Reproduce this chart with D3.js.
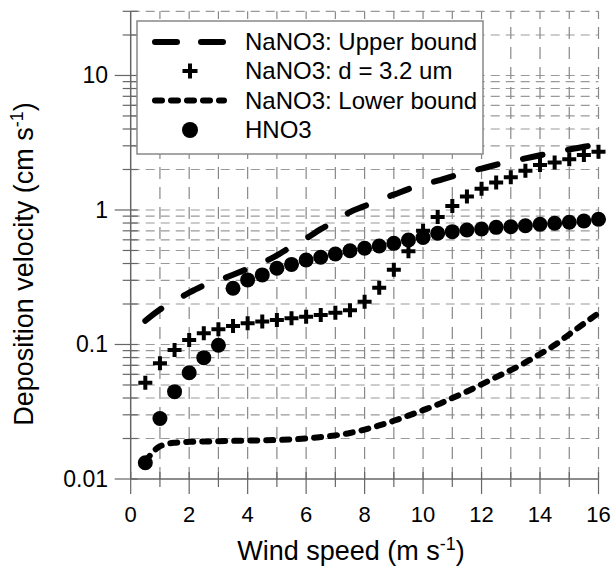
<!DOCTYPE html>
<html>
<head>
<meta charset="utf-8">
<script src="https://cdn.jsdelivr.net/npm/d3@7"></script>
<style>
  body { margin: 0; background: #fff; }
  text { font-family: "Liberation Sans", Arial, sans-serif; fill: #000; }
</style>
</head>
<body>
<div id="chart"></div>
<script>
// wind speed (m/s) at which every series was sampled
var windSpeed = [0.5, 1, 1.5, 2, 2.5, 3, 3.5, 4, 4.5, 5, 5.5, 6, 6.5, 7, 7.5, 8,
  8.5, 9, 9.5, 10, 10.5, 11, 11.5, 12, 12.5, 13, 13.5, 14, 14.5, 15, 15.5, 16];

// deposition velocities, cm/s
var upperBound = [0.150, 0.182, 0.21, 0.243, 0.275, 0.30, 0.33, 0.365, 0.405, 0.46, 0.535, 0.615,
  0.72, 0.83, 0.965, 1.07, 1.19, 1.30, 1.43, 1.55, 1.65, 1.78, 1.93, 2.03,
  2.17, 2.30, 2.42, 2.55, 2.68, 2.82, 2.95, 3.08];
var d32 = [0.052, 0.0725, 0.091, 0.108, 0.121, 0.130, 0.137, 0.144, 0.148, 0.152, 0.157, 0.161,
  0.166, 0.172, 0.180, 0.208, 0.264, 0.360, 0.494, 0.70, 0.887, 1.07, 1.26, 1.44,
  1.60, 1.75, 1.96, 2.16, 2.25, 2.38, 2.56, 2.71];
var lowerBound = [0.0135, 0.0175, 0.0186, 0.0189, 0.0190, 0.0191, 0.0192, 0.0193, 0.0194, 0.0195, 0.0197, 0.0200,
  0.0205, 0.0211, 0.0220, 0.0233, 0.0250, 0.0271, 0.0296, 0.0325, 0.0358, 0.0400, 0.0447, 0.0505,
  0.0572, 0.0645, 0.0735, 0.085, 0.099, 0.119, 0.143, 0.171];
var hno3 = [0.0132, 0.0282, 0.0446, 0.0617, 0.0798, 0.0987, 0.262, 0.302, 0.329, 0.369, 0.394, 0.425,
  0.445, 0.471, 0.498, 0.519, 0.540, 0.565, 0.598, 0.625, 0.671, 0.690, 0.710, 0.722,
  0.743, 0.751, 0.764, 0.783, 0.797, 0.811, 0.828, 0.853];

var xTicks = [0, 2, 4, 6, 8, 10, 12, 14, 16];
var yTicks = [0.01, 0.1, 1, 10];
var legendLabels = ["NaNO3: Upper bound", "NaNO3: d = 3.2 um", "NaNO3: Lower bound", "HNO3"];

var W = 614, H = 569;
var x = d3.scaleLinear().domain([0, 16]).range([130.7, 598.5]);
var y = d3.scaleLog().domain([0.01, 30]).range([479, 11.3]);

var svg = d3.select('#chart').append('svg')
  .attr('width', W)
  .attr('height', H);

// minor log ticks 1..9 per decade
var yMinor = [];
[0.01, 0.1, 1, 10].forEach(function(dec) {
  for (var k = 1; k <= 9; k++) {
    var v = dec * k;
    if (v <= 30.0001) yMinor.push(v);
  }
});
var xAll = d3.range(0, 17);

// grid
var grid = svg.append('g');
grid.selectAll('.hg')
  .data(yMinor.filter(function(v) { return v > 0.01; }))
  .enter().append('line')
  .attr('x1', x(0)).attr('x2', x(16))
  .attr('y1', function(d) { return y(d); })
  .attr('y2', function(d) { return y(d); })
  .attr('stroke', '#999')
  .attr('stroke-width', 1.2)
  .attr('stroke-dasharray', '9,6');
grid.selectAll('.vg')
  .data(xAll.filter(function(v) { return v > 0; }))
  .enter().append('line')
  .attr('y1', y(0.01)).attr('y2', y(30))
  .attr('x1', function(d) { return x(d); })
  .attr('x2', function(d) { return x(d); })
  .attr('stroke', '#888')
  .attr('stroke-width', 1.2)
  .attr('stroke-dasharray', '12,8');

// axes lines + ticks
var axisColor = '#666';
svg.append('line')
  .attr('x1', x(0)).attr('x2', x(0)).attr('y1', y(0.01)).attr('y2', y(30))
  .attr('stroke', axisColor).attr('stroke-width', 1.5);
svg.append('line')
  .attr('x1', x(0)).attr('x2', x(16)).attr('y1', y(0.01)).attr('y2', y(0.01))
  .attr('stroke', axisColor).attr('stroke-width', 1.5);

svg.selectAll('.ytk')
  .data(yMinor)
  .enter().append('line')
  .attr('x1', function(d) { return yTicks.indexOf(d) >= 0 ? x(0) - 16 : x(0) - 8; })
  .attr('x2', x(0) + 7)
  .attr('y1', function(d) { return y(d); })
  .attr('y2', function(d) { return y(d); })
  .attr('stroke', axisColor).attr('stroke-width', 1.2);

svg.selectAll('.xtk')
  .data(xAll)
  .enter().append('line')
  .attr('x1', function(d) { return x(d); })
  .attr('x2', function(d) { return x(d); })
  .attr('y1', y(0.01) - 7)
  .attr('y2', function(d) { return d % 2 === 0 ? y(0.01) + 15 : y(0.01) + 8; })
  .attr('stroke', axisColor).attr('stroke-width', 1.2);

svg.selectAll('.ylab')
  .data(yTicks)
  .enter().append('text')
  .attr('x', 108)
  .attr('y', function(d) { return y(d) + 8; })
  .attr('text-anchor', 'end')
  .attr('font-size', '23px')
  .text(function(d) { return d3.format('~g')(d); });

svg.selectAll('.xlab')
  .data(xTicks)
  .enter().append('text')
  .attr('x', function(d) { return x(d); })
  .attr('y', 522)
  .attr('text-anchor', 'middle')
  .attr('font-size', '22px')
  .text(function(d) { return d; });

// axis titles
var xt = svg.append('text')
  .attr('x', 351).attr('y', 560)
  .attr('text-anchor', 'middle')
  .attr('font-size', '27px');
xt.append('tspan').text('Wind speed (m s');
xt.append('tspan').attr('font-size', '18px').attr('dy', -10).text('-1');
xt.append('tspan').attr('dy', 10).text(')');

var yt = svg.append('text')
  .attr('transform', 'translate(33,264) rotate(-90)')
  .attr('text-anchor', 'middle')
  .attr('font-size', '27px');
yt.append('tspan').text('Deposition velocity (cm s');
yt.append('tspan').attr('font-size', '18px').attr('dy', -10).text('-1');
yt.append('tspan').attr('dy', 10).text(')');

// series
var line = d3.line()
  .x(function(d) { return x(d[0]); })
  .y(function(d) { return y(d[1]); })
  .curve(d3.curveMonotoneX);

function pairs(vals) {
  return windSpeed.map(function(w, i) { return [w, vals[i]]; });
}

svg.append('path')
  .attr('d', line(pairs(upperBound)))
  .attr('fill', 'none').attr('stroke', '#000')
  .attr('stroke-width', 6).attr('stroke-linecap', 'round')
  .attr('stroke-dasharray', '20,26');

svg.append('path')
  .attr('d', line(pairs(lowerBound)))
  .attr('fill', 'none').attr('stroke', '#000')
  .attr('stroke-width', 6).attr('stroke-linecap', 'round')
  .attr('stroke-dasharray', '7,9');

svg.selectAll('.hno3')
  .data(pairs(hno3))
  .enter().append('circle')
  .attr('cx', function(d) { return x(d[0]); })
  .attr('cy', function(d) { return y(d[1]); })
  .attr('r', 7.5)
  .attr('fill', '#000');

function plusPath(cx, cy, s) {
  return 'M' + (cx - s) + ',' + cy + 'H' + (cx + s) + 'M' + cx + ',' + (cy - s) + 'V' + (cy + s);
}
svg.selectAll('.d32')
  .data(pairs(d32))
  .enter().append('path')
  .attr('d', function(d) { return plusPath(x(d[0]), y(d[1]), 7); })
  .attr('stroke', '#000').attr('stroke-width', 4).attr('fill', 'none');

// legend
var lg = svg.append('g');
lg.append('rect')
  .attr('x', 137).attr('y', 21)
  .attr('width', 346).attr('height', 133)
  .attr('fill', '#fff')
  .attr('stroke', '#888').attr('stroke-width', 1.5);

var rowY = [42, 71, 100.5, 130];
lg.append('path').attr('d', 'M155,' + rowY[0] + 'H224')
  .attr('stroke', '#000').attr('stroke-width', 6).attr('stroke-linecap', 'round')
  .attr('stroke-dasharray', '22,24');
lg.append('path').attr('d', plusPath(190, rowY[1], 7.5))
  .attr('stroke', '#000').attr('stroke-width', 4);
lg.append('path').attr('d', 'M155,' + rowY[2] + 'H224')
  .attr('stroke', '#000').attr('stroke-width', 6).attr('stroke-linecap', 'round')
  .attr('stroke-dasharray', '7,9');
lg.append('circle').attr('cx', 190).attr('cy', rowY[3]).attr('r', 8).attr('fill', '#000');

lg.selectAll('.lt')
  .data(legendLabels)
  .enter().append('text')
  .attr('x', 245)
  .attr('y', function(d, i) { return rowY[i] + 8; })
  .attr('font-size', '24px')
  .text(function(d) { return d; });
</script>
</body>
</html>
